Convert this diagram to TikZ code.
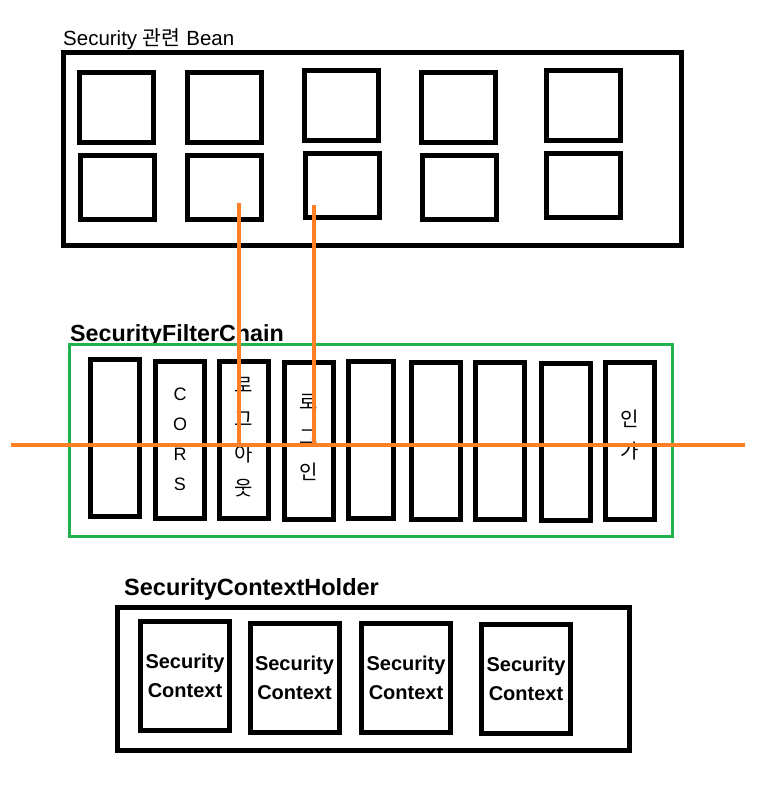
\documentclass[tikz,border=0pt]{standalone}
\usepackage{fontspec}
\setmainfont{Liberation Sans}
\newfontfamily\krfont{Noto Sans CJK KR}
\definecolor{orangeln}{HTML}{FF7F27}
\definecolor{greenln}{HTML}{22B14C}
\tikzset{
  bx/.style={draw=black, line width=5pt, fill=none, inner sep=0pt, outer sep=0pt},
  beanbox/.style={bx, minimum width=74pt},
  filterbox/.style={bx, minimum width=49pt, minimum height=157pt},
  ctxbox/.style={bx, minimum width=89pt, minimum height=109pt, align=center,
     font=\fontsize{20}{29}\selectfont\bfseries},
  wire/.style={draw=orangeln, line width=4pt},
  vtext/.style={align=center, inner sep=0pt},
  title/.style={anchor=base west, inner sep=0pt},
}
\begin{document}
\begin{tikzpicture}[x=1pt,y=-1pt]
\useasboundingbox (0,0) rectangle (770,785);
% ---- Security beans
\node[title, font=\fontsize{20.5}{24}\selectfont] (t1) at (63,45) {Security {\krfont 관련} Bean};
\node[bx, minimum width=618pt, minimum height=193pt] (beans) at (372.5,149) {};
\node[beanbox, minimum height=70pt] (b1) at (116.5,107.5) {};
\node[beanbox, minimum height=70pt] (b2) at (224.5,107.5) {};
\node[beanbox, minimum height=70pt] (b3) at (341.5,105.5) {};
\node[beanbox, minimum height=70pt] (b4) at (458.5,107.5) {};
\node[beanbox, minimum height=70pt] (b5) at (583,105.5) {};
\node[beanbox, minimum height=64pt] (b6) at (117,187.5) {};
\node[beanbox, minimum height=64pt] (b7) at (224.5,187.5) {};
\node[beanbox, minimum height=64pt] (b8) at (342.5,185.5) {};
\node[beanbox, minimum height=64pt] (b9) at (459,187.5) {};
\node[beanbox, minimum height=64pt] (b10) at (583,185.5) {};
% ---- Filter chain
\node[title, font=\fontsize{23.3}{26}\selectfont\bfseries] (t2) at (70,341) {SecurityFilterChain};
\node[draw=greenln, line width=3.5pt, minimum width=603pt, minimum height=192pt, inner sep=0pt] (chain) at (371,440.5) {};
\node[filterbox] (f1) at (115,438) {};
\node[filterbox] (f2) at (180,439.5) {};
\node[filterbox] (f3) at (244,439.5) {};
\node[filterbox] (f4) at (308.5,440.5) {};
\node[filterbox, minimum width=45pt] (f5) at (371,439.5) {};
\node[filterbox] (f6) at (436,440.5) {};
\node[filterbox] (f7) at (500,440.5) {};
\node[filterbox] (f8) at (565.5,441.5) {};
\node[filterbox] (f9) at (629.5,440.5) {};
\node[vtext, font=\fontsize{18}{30}\selectfont] (tcors) at (180,439) {C\\O\\R\\S};
\node[vtext, font=\fontsize{20}{34.5}\krfont\selectfont] (tlogout) at (244,437) {로\\그\\아\\웃};
\node[vtext, font=\fontsize{20}{35}\krfont\selectfont] (tlogin) at (308.5,437) {로\\그\\인};
\node[vtext, font=\fontsize{20}{32}\krfont\selectfont] (tauth) at (629.5,435) {인\\가};
% ---- Context holder
\node[title, font=\fontsize{23.5}{26}\selectfont\bfseries] (t3) at (124,595) {SecurityContextHolder};
\node[bx, minimum width=512pt, minimum height=143pt] (holder) at (373.5,679) {};
\node[ctxbox] (c1) at (185,676) {Security\\Context};
\node[ctxbox] (c2) at (294.5,677.5) {Security\\Context};
\node[ctxbox] (c3) at (406,678) {Security\\Context};
\node[ctxbox] (c4) at (526,679) {Security\\Context};
% ---- orange wires
\coordinate (hl) at (11,445);
\coordinate (hr) at (745,445);
\coordinate (v1t) at (239,203);
\coordinate (v1b) at (239,445);
\coordinate (v2t) at (314,205);
\coordinate (v2b) at (314,445);
\draw[wire] (hl) -- (hr);
\draw[wire] (v1t) -- (v1b);
\draw[wire] (v2t) -- (v2b);
\end{tikzpicture}
\end{document}
